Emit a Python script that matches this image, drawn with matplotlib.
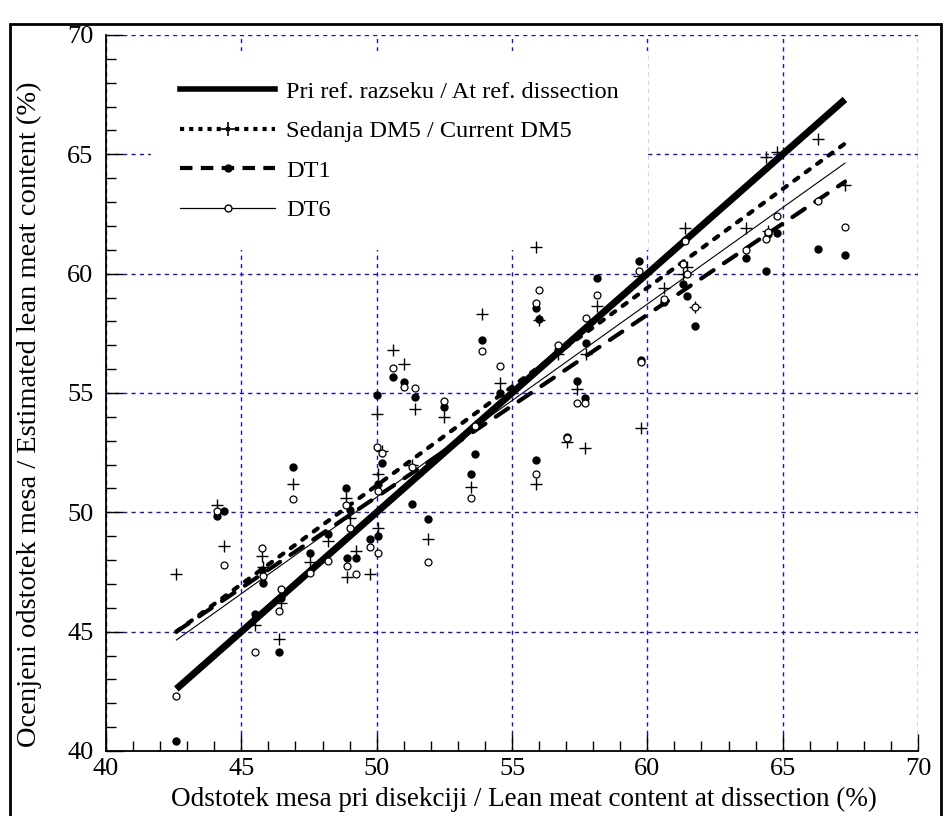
import numpy as np
import matplotlib
matplotlib.use("Agg")
import matplotlib.pyplot as plt
from matplotlib.lines import Line2D
from matplotlib.patches import Rectangle

plt.rcParams["font.family"] = ["Liberation Serif", "DejaVu Serif"]

# lean meat content at dissection (%) for each carcass
dissection = [42.6, 44.1, 44.35, 45.5, 45.75, 45.8, 46.4, 46.45, 46.9, 47.55,
              48.2, 48.85, 48.9, 49.0, 49.25, 49.75, 50.05, 50.03, 50.2, 50.05,
              50.6, 51.0, 51.4, 51.3, 51.9, 52.5, 53.5, 53.65, 53.9, 54.55,
              55.9, 56.0, 55.9, 56.7, 57.05, 57.4, 57.7, 57.75, 58.15, 59.7,
              59.75, 60.6, 61.3, 61.4, 61.45, 61.76, 63.65, 64.4, 64.45, 64.8,
              66.3, 67.3]
# estimated lean meat content (%)
dm5 = [47.4, 50.3, 48.6, 45.3, 48.15, 47.7, 44.7, 46.2, 51.2, 47.9,
       48.8, 50.6, 47.3, 49.75, 48.4, 47.4, 49.35, 54.1, 52.55, 51.6,
       56.8, 56.2, 54.35, 52.0, 48.9, 54.0, 51.05, 53.6, 58.3, 55.4,
       61.1, 58.05, 51.2, 56.65, 52.95, 55.15, 52.7, 56.65, 58.65, 59.9,
       53.55, 59.4, 60.0, 61.9, 60.3, 58.6, 61.9, 64.9, 61.8, 65.1,
       65.65, 63.7]
dt1 = [40.4, 49.85, 50.05, 45.75, 47.6, 47.05, 44.15, 46.4, 51.9, 48.3,
       49.1, 51.0, 48.1, 50.1, 48.1, 48.9, 49.0, 54.9, 52.05, 51.2,
       55.65, 55.45, 54.85, 50.35, 49.7, 54.4, 51.6, 52.45, 57.2, 55.0,
       58.55, 58.1, 52.2, 56.8, 53.15, 55.5, 54.8, 57.1, 59.8, 60.55,
       56.4, 58.8, 59.55, 61.4, 59.05, 57.8, 60.65, 60.1, 61.65, 61.7,
       61.05, 60.8]
dt6 = [42.3, 50.05, 47.8, 44.15, 48.5, 47.35, 45.85, 46.8, 50.55, 47.45,
       47.95, 50.3, 47.75, 49.35, 47.4, 48.55, 48.3, 52.75, 52.5, 50.9,
       56.05, 55.25, 55.2, 51.9, 47.9, 54.65, 50.6, 53.6, 56.75, 56.15,
       58.75, 59.3, 51.6, 57.0, 53.1, 54.6, 54.6, 58.15, 59.1, 60.1,
       56.3, 58.95, 60.4, 61.35, 60.0, 58.6, 61.0, 61.45, 61.75, 62.4,
       63.05, 61.95]

# regression lines (end points)
fit_x = [42.6, 67.3]
ref_y = [42.6, 67.3]
dm5_fit = [45.0, 65.45]
dt1_fit = [45.0, 63.85]
dt6_fit = [44.65, 64.63]

labels = ["Pri ref. razseku / At ref. dissection",
          "Sedanja DM5 / Current DM5",
          "DT1",
          "DT6"]

fig = plt.figure(figsize=(9.43, 8.16), dpi=100)
ax = fig.add_axes([106 / 943, 65 / 816, 812 / 943, 716 / 816])

# lines
ax.plot(fit_x, ref_y, color="black", lw=5.0, solid_capstyle="butt", zorder=2)
ax.plot(fit_x, dm5_fit, color="black", lw=3.0, dashes=(1.2, 2.2),
        dash_capstyle="round", zorder=2)
ax.plot(fit_x, dt1_fit, color="black", lw=3.0, dashes=(3.6, 3.0),
        dash_capstyle="round", zorder=2)
ax.plot(fit_x, dt6_fit, color="black", lw=0.8, zorder=2)

# points (above the white legend box)
ax.plot(dissection, dm5, ls="none", marker="+", ms=9, mew=1.0, color="black", zorder=6)
ax.plot(dissection, dt1, ls="none", marker="o", ms=5, color="black", zorder=6)
ax.plot(dissection, dt6, ls="none", marker="o", ms=5, mfc="white", mec="black",
        mew=0.9, zorder=7)

ax.set_xlim(40, 70)
ax.set_ylim(40, 70)
ax.set_xticks(np.arange(40, 71, 5))
ax.set_yticks(np.arange(40, 71, 5))
ax.set_xticks(np.arange(40, 71, 1), minor=True)
ax.set_yticks(np.arange(40, 71, 1), minor=True)
ax.tick_params(which="both", direction="in", top=False, right=False,
               labelsize=19, width=1, color="black")
ax.tick_params(which="major", length=12, pad=9)
ax.tick_params(axis="x", which="major", pad=5)
ax.tick_params(which="minor", length=7)
ax.grid(True, which="major", color="#1010e8", ls=(0, (3, 3)), lw=1.0)
ax.set_axisbelow(True)
for side in ["top", "right"]:
    ax.spines[side].set_visible(False)
for side in ["left", "bottom"]:
    ax.spines[side].set_linewidth(1.3)

ax.set_xlabel("Odstotek mesa pri disekciji / Lean meat content at dissection (%)",
              fontsize=19.5)
ax.set_ylabel("Ocenjeni odstotek mesa / Estimated lean meat content (%)",
              fontsize=20.5)
ax.xaxis.set_label_coords(0.515, -0.05)
ax.yaxis.set_label_coords(-0.079, 0.47)

handles = [
    Line2D([], [], color="black", lw=4.0),
    Line2D([], [], color="black", lw=3.0, dashes=(1.0, 1.2), dash_capstyle="butt",
           marker="+", ms=10, mew=1.2, markevery=[1]),
    Line2D([], [], color="black", lw=3.0, dashes=(3.0, 2.0),
           marker="o", ms=5, markevery=[1]),
    Line2D([], [], color="black", lw=0.9, marker="o", ms=5, mfc="white",
           mec="black", markevery=[1]),
]
for h in handles:
    h.set_data([0, 0.5, 1], [0, 0, 0])
leg = ax.legend(handles, labels, loc="upper left", bbox_to_anchor=(0.0554, 0.977),
                fontsize=17.5, frameon=True, fancybox=False, edgecolor="none",
                facecolor="white", framealpha=1, handlelength=3.9,
                handletextpad=0.45, labelspacing=0.72, borderpad=1.2,
                borderaxespad=0)

# outer frame
fig.add_artist(Rectangle((10 / 943, -0.05), 931 / 943, 1.05 - 24 / 816,
                         transform=fig.transFigure, fill=False, lw=2,
                         edgecolor="black"))

fig.savefig("out.png", dpi=100)
